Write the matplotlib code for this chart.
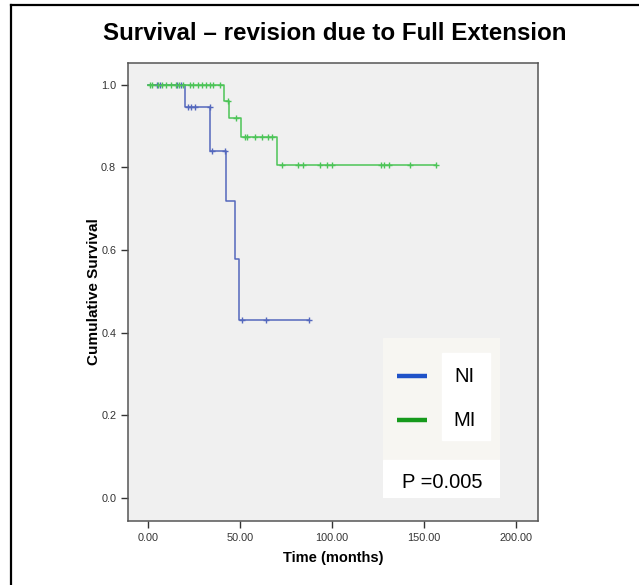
import matplotlib.pyplot as plt
from matplotlib.lines import Line2D
from matplotlib.patches import Rectangle

plt.rcParams['font.family'] = ['Liberation Sans', 'DejaVu Sans']

# NI group: event times, survival after each step, censored times
ni_times = [0, 20.2, 33.7, 42.4, 47.3, 49.5]
ni_surv = [1.0, 0.947, 0.841, 0.720, 0.578, 0.431]
ni_end = 87.5
ni_cens = [5.0, 6.5, 16.0, 18.0, 21.5, 23.5, 25.5, 33.5, 34.6, 41.8, 50.9, 64.1, 87.5]

# MI group
mi_times = [0, 41.2, 44.2, 50.4, 70.3]
mi_surv = [1.0, 0.961, 0.919, 0.873, 0.806]
mi_end = 156.5
mi_cens = [1.0, 2.0, 5.5, 7.5, 9.6, 12.7, 15.0, 17.0, 19.0, 22.8, 24.6, 27.3,
           29.2, 31.5, 33.7, 35.5, 39.1, 43.6, 47.8, 52.7, 53.6, 58.2, 61.8,
           65.0, 67.2, 72.6, 81.3, 84.1, 93.5, 97.1, 100.2, 126.6, 128.4,
           131.2, 142.4, 156.5]

xticks = [0, 50, 100, 150, 200]
yticks = [0.0, 0.2, 0.4, 0.6, 0.8, 1.0]


def surv_at(t, times, surv):
    s = surv[0]
    for ti, si in zip(times, surv):
        if t >= ti:
            s = si
    return s


fig = plt.figure(figsize=(6.39, 5.85), dpi=100)
fig.patch.set_facecolor('white')
ax = fig.add_axes([128/639, 1-521/585, 410/639, 458/585])
ax.set_facecolor('#f0f0f0')

blue = '#5468bd'
green = '#4cc457'
ax.step(ni_times + [ni_end], ni_surv + [ni_surv[-1]], where='post', color=blue, lw=1.1)
ax.step(mi_times + [mi_end], mi_surv + [mi_surv[-1]], where='post', color=green, lw=1.1)
ax.plot(ni_cens, [surv_at(t, ni_times, ni_surv) for t in ni_cens], ls='none',
        marker='+', ms=5, mew=1.0, color=blue)
ax.plot(mi_cens, [surv_at(t, mi_times, mi_surv) for t in mi_cens], ls='none',
        marker='+', ms=5, mew=1.0, color=green)

ax.set_xlim(-10.9, 212)
ax.set_ylim(-0.056, 1.053)
ax.set_xticks(xticks)
ax.set_xticklabels([f'{v:.2f}' for v in xticks])
ax.set_yticks(yticks)
ax.set_yticklabels([f'{v:.1f}' for v in yticks])
ax.tick_params(labelsize=7.8, colors='#333333', length=5, width=1.0)
for s in ax.spines.values():
    s.set_color('#555555')
    s.set_linewidth(1.1)
ax.set_xlabel('Time (months)', fontsize=10.5, fontweight='bold', labelpad=6)
ax.set_ylabel('Cumulative Survival', fontsize=11, fontweight='bold', labelpad=0)

fig.text(335/639, 1-33/585, 'Survival \u2013 revision due to Full Extension',
         ha='center', va='center', fontsize=17.4, fontweight='bold')

# legend / p-value box
lg = fig.add_axes([383/639, 1-498/585, 117/639, 160/585])
lg.set_xlim(0, 1)
lg.set_ylim(0, 1)
lg.axis('off')
lg.add_patch(Rectangle((0, 0.2375), 1, 0.7625, color='#f7f6f2'))
lg.add_patch(Rectangle((0, 0), 1, 0.2375, color='white'))
lg.add_patch(Rectangle((0.504, 0.3625), 0.411, 0.5435, color='white'))
lg.plot([0.12, 0.376], [0.7625, 0.7625], color='#1f52c8', lw=3.2, solid_capstyle='butt')
lg.plot([0.12, 0.376], [0.4875, 0.4875], color='#169a1c', lw=3.2, solid_capstyle='butt')
lg.text(0.70, 0.7625, 'NI', ha='center', va='center', fontsize=14.5)
lg.text(0.70, 0.4875, 'MI', ha='center', va='center', fontsize=14.5)
lg.text(0.504, 0.10, 'P =0.005', ha='center', va='center', fontsize=14.5)

# outer frame (left and top edges)
fig.add_artist(Line2D([11/639, 11/639], [0, 1-4.5/585], color='black', lw=1.6))
fig.add_artist(Line2D([11/639, 1], [1-4.5/585, 1-4.5/585], color='black', lw=1.6))

fig.savefig('out.png', dpi=100)
